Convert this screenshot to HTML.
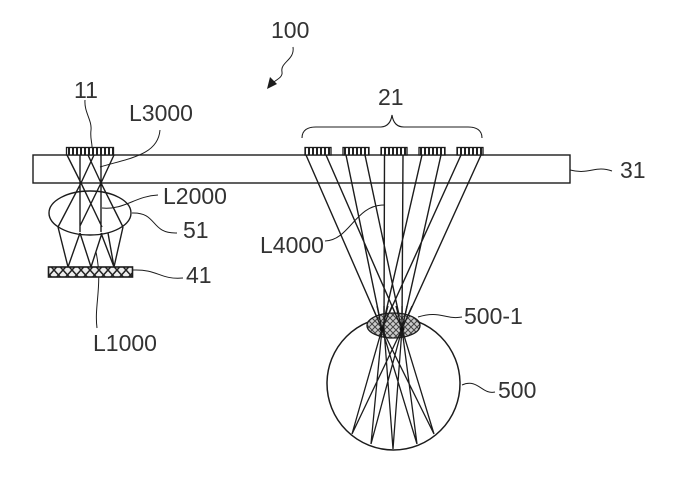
<!DOCTYPE html>
<html><head><meta charset="utf-8"><style>
html,body{margin:0;padding:0;background:#fff}
svg{display:block}
text{font-family:"Liberation Sans",sans-serif;font-size:23px;fill:#333}
</style></head><body>
<svg width="699" height="490" viewBox="0 0 699 490" xmlns="http://www.w3.org/2000/svg">
<defs>
<pattern id="v" width="4" height="8" patternUnits="userSpaceOnUse"><rect width="4" height="8" fill="#fff"/><rect width="2" height="8" fill="#222"/></pattern>
<pattern id="x" width="9" height="10" patternUnits="userSpaceOnUse"><rect width="9" height="10" fill="#eee"/><path d="M0 0L9 10M9 0L0 10" stroke="#222" stroke-width="1.500"/></pattern>
<pattern id="p" width="6" height="6" patternUnits="userSpaceOnUse"><rect width="6" height="6" fill="#ccc"/><path d="M0 0L6 6M6 0L0 6" stroke="#444" stroke-width="1"/></pattern>
</defs>
<g fill="none" stroke="#1c1c1c" stroke-width="1.400">
<rect x="33" y="155" width="537" height="28"/>
<!-- left rays -->
<path d="M67 155L81 183L102 227M88 155L101 183L123 227M114 155L101 183L80 226M94 155L81 183L58 227M80 155V232M101 155V232"/>
<path d="M58 227L68 267M80 233L68 267M80 233L91 267M102 233L91 267M101 233L114 267M123 227L114 267M108 233L114 267"/>
<ellipse cx="90" cy="213" rx="41" ry="22"/>
<!-- right rays (above pupil) -->
<path d="M306 155L382 329M326 155L402 329M346 155L382 329M365 155L402 329M384.500 155L384 329M403 155L402 329M422 155L382 329M441 155L402 329M461 155L382 329M481 155L402 329"/>
<circle cx="393.500" cy="383.500" r="66.500" stroke-width="1.500"/>
<!-- brace -->
<path d="M302 138C302 130 308 127 316 127H380C388 127 391 122 392 115C393 122 396 127 404 127H468C476 127 482 130 482 138" stroke-width="1.100"/>
<!-- leaders -->
<path d="M85 100C84 112 92 120 91 130C90 138 92 142 92 147M160 130C158 155 130 158 100 167M158 195C135 196 125 210 102 208M132 213C158 212 150 234 177 233M133 270C158 269 160 280 183 278M97 328C94 305 103 285 96 252M325 241C350 240 355 205 384 205M418 317C440 310 445 320 462 317M462 385C478 378 482 395 495 392M570 170C590 175 595 165 612 171" stroke-width="1"/>
<path d="M293 47C295 60 280 62 282 72C283 78 275 80 270 85" stroke-width="1"/>
</g>
<path d="M267 89L270 77L277 84Z" fill="#1c1c1c"/>
<g stroke="#1c1c1c" stroke-width="1.300">
<rect x="66.500" y="147.500" width="47" height="7.500" fill="url(#v)"/>
<rect x="305" y="147.500" width="26" height="7.500" fill="url(#v)"/>
<rect x="343" y="147.500" width="26" height="7.500" fill="url(#v)"/>
<rect x="381" y="147.500" width="26" height="7.500" fill="url(#v)"/>
<rect x="419" y="147.500" width="26" height="7.500" fill="url(#v)"/>
<rect x="457" y="147.500" width="26" height="7.500" fill="url(#v)"/>
<rect x="48.500" y="267" width="84" height="10" fill="url(#x)" stroke-width="1.600"/>
<ellipse cx="393.500" cy="325.500" rx="26.500" ry="12.500" fill="url(#p)"/>
</g>
<!-- rays over the pupil and below -->
<g fill="none" stroke="#1c1c1c" stroke-width="1.300">
<path d="M372 306L382 329L434 434M412 306L402 329L434 434M377 306L382 329L417 444M407 306L402 329L417 444M384 306L384 329L393 449M402 306L402 329L393 449M388 306L382 329L371 444M396 306L402 329L371 444M392 306L382 329L352 434M392 306L402 329L352 434"/>
</g>
<circle cx="382" cy="329" r="2.500" fill="#111"/>
<circle cx="402" cy="329" r="2.500" fill="#111"/>
<text x="74" y="98">11</text>
<text x="129" y="121">L3000</text>
<text x="378" y="105">21</text>
<text x="620" y="178">31</text>
<text x="163" y="204">L2000</text>
<text x="183" y="238">51</text>
<text x="186" y="283">41</text>
<text x="93" y="351">L1000</text>
<text x="260" y="253">L4000</text>
<text x="464" y="324">500-1</text>
<text x="498" y="398">500</text>
<text x="271" y="38">100</text>
</svg>
</body></html>
